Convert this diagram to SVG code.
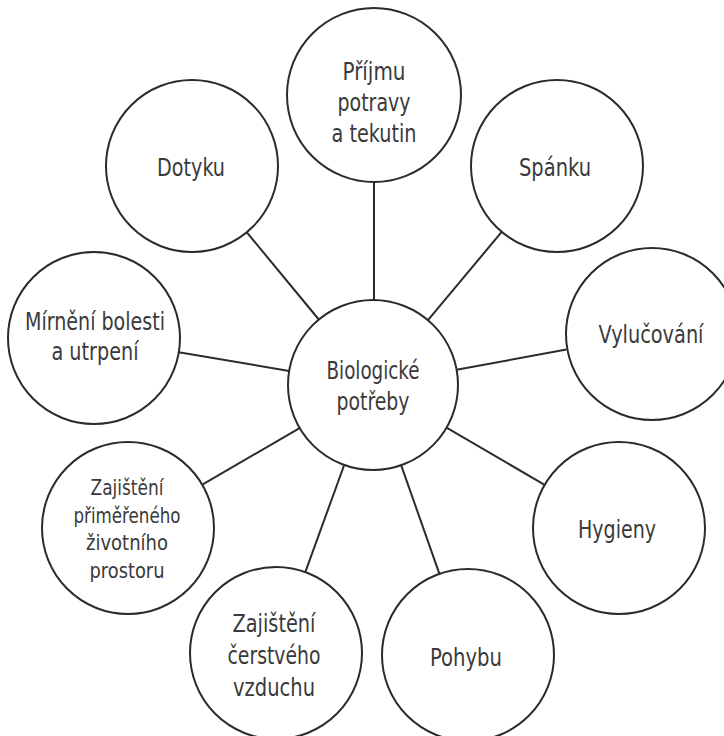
<svg xmlns="http://www.w3.org/2000/svg" width="724" height="736" viewBox="0 0 724 736">
<style>
.n circle{fill:#fff;stroke:#2b2b2b;stroke-width:2}
.c line{stroke:#2b2b2b;stroke-width:2}
text{font-family:"DejaVu Sans Condensed","Liberation Sans",sans-serif;font-stretch:condensed;font-size:25px;fill:#3a3a3a;text-anchor:middle}
.s{font-size:22px}
</style>
<rect width="724" height="736" fill="#fff"/>
<g id="connectors" class="c">
<line x1="374" y1="182" x2="374" y2="300"/>
<line x1="246.8" y1="232.3" x2="318.8" y2="319.5"/>
<line x1="501.7" y1="231.9" x2="428.2" y2="319.8"/>
<line x1="178.8" y1="352.3" x2="289.2" y2="370.9"/>
<line x1="566.4" y1="349.6" x2="456.6" y2="369.8"/>
<line x1="202.3" y1="484.7" x2="299.6" y2="428.1"/>
<line x1="305.3" y1="572.1" x2="344.2" y2="465"/>
<line x1="439.4" y1="573.8" x2="401.2" y2="465.3"/>
<line x1="544.6" y1="484.8" x2="446.5" y2="427.7"/>
</g>
<g id="center" class="n"><circle cx="373" cy="385" r="85"/><text x="373" y="379" textLength="93" lengthAdjust="spacingAndGlyphs">Biologické</text><text x="373" y="410" textLength="73" lengthAdjust="spacingAndGlyphs">potřeby</text></g>
<g id="prijmu" class="n"><circle cx="374" cy="95" r="87"/><text x="374" y="80" textLength="63" lengthAdjust="spacingAndGlyphs">Příjmu</text><text x="374" y="111" textLength="73" lengthAdjust="spacingAndGlyphs">potravy</text><text x="374" y="142" textLength="85" lengthAdjust="spacingAndGlyphs">a tekutin</text></g>
<g id="dotyku" class="n"><circle cx="192" cy="166" r="86"/><text x="191" y="176" textLength="68" lengthAdjust="spacingAndGlyphs">Dotyku</text></g>
<g id="spanku" class="n"><circle cx="557" cy="166" r="86"/><text x="555" y="176" textLength="72" lengthAdjust="spacingAndGlyphs">Spánku</text></g>
<g id="mirneni" class="n"><circle cx="94" cy="338" r="86"/><text x="95" y="330" textLength="140" lengthAdjust="spacingAndGlyphs">Mírnění bolesti</text><text x="95" y="360" textLength="87" lengthAdjust="spacingAndGlyphs">a utrpení</text></g>
<g id="vylucovani" class="n"><circle cx="652" cy="334" r="86"/><text x="651" y="343" textLength="105" lengthAdjust="spacingAndGlyphs">Vylučování</text></g>
<g id="prostor" class="n"><circle cx="128" cy="528" r="86"/><text class="s" x="127" y="495" textLength="73" lengthAdjust="spacingAndGlyphs">Zajištění</text><text class="s" x="127" y="523" textLength="107" lengthAdjust="spacingAndGlyphs">přiměřeného</text><text class="s" x="127" y="550" textLength="82" lengthAdjust="spacingAndGlyphs">životního</text><text class="s" x="127" y="578" textLength="75" lengthAdjust="spacingAndGlyphs">prostoru</text></g>
<g id="vzduch" class="n"><circle cx="276" cy="653" r="86"/><text x="274" y="632" textLength="83" lengthAdjust="spacingAndGlyphs">Zajištění</text><text x="274" y="664" textLength="93" lengthAdjust="spacingAndGlyphs">čerstvého</text><text x="274" y="696" textLength="82" lengthAdjust="spacingAndGlyphs">vzduchu</text></g>
<g id="pohybu" class="n"><circle cx="468" cy="655" r="86"/><text x="466" y="666" textLength="72" lengthAdjust="spacingAndGlyphs">Pohybu</text></g>
<g id="hygieny" class="n"><circle cx="619" cy="528" r="86"/><text x="617" y="538" textLength="78" lengthAdjust="spacingAndGlyphs">Hygieny</text></g>
</svg>
